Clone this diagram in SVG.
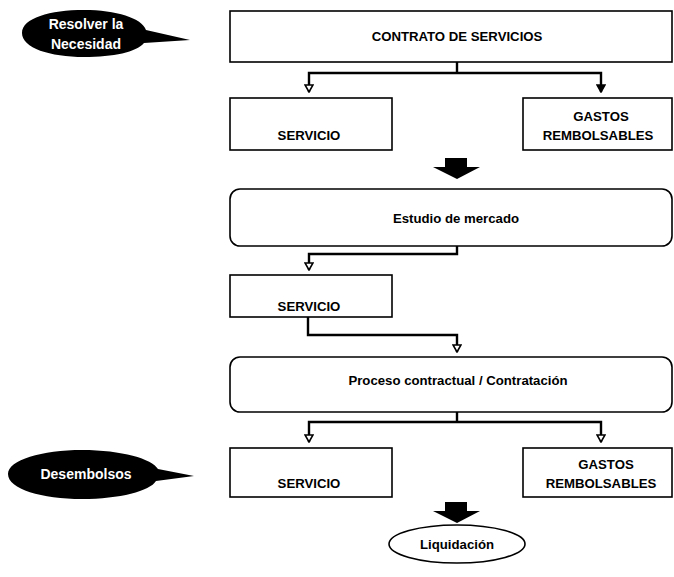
<svg xmlns="http://www.w3.org/2000/svg" width="674" height="577" viewBox="0 0 674 577">
<defs>
<style>
.box{fill:#fff;stroke:#000;stroke-width:1.6}
.t{font-family:"Liberation Sans",Arial,sans-serif;font-weight:bold;font-size:13.2px;fill:#000;text-anchor:middle}
.tw{font-family:"Liberation Sans",Arial,sans-serif;font-weight:bold;font-size:14px;fill:#fff;text-anchor:middle}
.c{fill:none;stroke:#000;stroke-width:2.4}
.bub{fill:#000}
.blk{fill:#000}
</style>
<marker id="ah" viewBox="0 0 10 10" refX="9" refY="5" markerWidth="10" markerHeight="10" markerUnits="userSpaceOnUse" orient="auto">
<path d="M2,1 L2,9 L9,5 Z" fill="#fff" stroke="#000" stroke-width="1.6"/>
</marker>
<marker id="ahf" viewBox="0 0 10 10" refX="9" refY="5" markerWidth="10" markerHeight="10" markerUnits="userSpaceOnUse" orient="auto">
<path d="M2,1 L2,9 L9,5 Z" fill="#000" stroke="#000" stroke-width="1.6"/>
</marker>
</defs>
<rect width="674" height="577" fill="#fff"/>

<g id="resolver">
<path class="bub" d="M22,33 C22,18 50,10 84,10 C116,10 142,18 146,30 L190,40 L144,43 C136,52 114,57 84,57 C50,57 22,48 22,33 Z"/>
<text class="tw" x="86" y="29">Resolver la</text>
<text class="tw" x="86" y="49">Necesidad</text>
</g>

<g id="contrato">
<rect class="box" x="230" y="11" width="442" height="51"/>
<text class="t" x="457" y="41">CONTRATO DE SERVICIOS</text>
</g>

<g id="servicio1">
<rect class="box" x="230" y="98" width="162" height="52"/>
<text class="t" x="309" y="140">SERVICIO</text>
</g>

<g id="gastos1">
<rect class="box" x="523" y="98" width="149" height="52"/>
<text class="t" x="601" y="121">GASTOS</text>
<text class="t" x="598" y="140">REMBOLSABLES</text>
</g>

<g id="flecha1">
<path class="blk" d="M445,158 L467,158 L467,167 L480,167 L457,179 L433,167 L445,167 Z"/>
</g>

<g id="estudio">
<rect class="box" x="230" y="189" width="442" height="57" rx="10"/>
<text class="t" x="456" y="223">Estudio de mercado</text>
</g>

<g id="servicio2">
<rect class="box" x="230" y="275" width="162" height="42"/>
<text class="t" x="309" y="311">SERVICIO</text>
</g>

<g id="proceso">
<rect class="box" x="230" y="357" width="442" height="55" rx="10"/>
<text class="t" x="458" y="385">Proceso contractual / Contratación</text>
</g>

<g id="servicio3">
<rect class="box" x="230" y="448" width="162" height="49"/>
<text class="t" x="309" y="488">SERVICIO</text>
</g>

<g id="gastos3">
<rect class="box" x="523" y="448" width="149" height="49"/>
<text class="t" x="606" y="469">GASTOS</text>
<text class="t" x="601" y="488">REMBOLSABLES</text>
</g>

<g id="desembolsos">
<path class="bub" d="M8,474 C8,460 42,450 82,450 C122,450 152,459 158,469 L194,476 L156,481 C150,491 120,499 82,499 C42,499 8,489 8,474 Z"/>
<text class="tw" x="86" y="479">Desembolsos</text>
</g>

<g id="flecha2">
<path class="blk" d="M445,502 L467,502 L467,511 L480,511 L457,523 L433,511 L445,511 Z"/>
</g>

<g id="liquidacion">
<ellipse class="box" cx="457" cy="544" rx="68" ry="19"/>
<text class="t" x="457" y="549">Liquidación</text>
</g>

<g id="connectors">
<path class="c" d="M457,62 V73"/>
<path class="c" d="M457,73 H309 V92" marker-end="url(#ah)"/>
<path class="c" d="M457,73 H601 V92" marker-end="url(#ahf)"/>
<path class="c" d="M457,246 V254 H309 V270" marker-end="url(#ah)"/>
<path class="c" d="M308,317 V335 H457 V352" marker-end="url(#ah)"/>
<path class="c" d="M457,412 V422"/>
<path class="c" d="M457,422 H309 V442" marker-end="url(#ah)"/>
<path class="c" d="M457,422 H601 V442" marker-end="url(#ah)"/>
</g>
</svg>
